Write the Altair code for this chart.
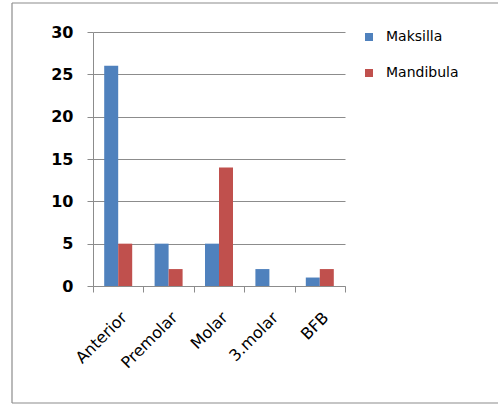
import altair as alt
import pandas as pd

categories = ["Anterior", "Premolar", "Molar", "3.molar", "BFB"]
maksilla = [26, 5, 5, 2, 1]
mandibula = [5, 2, 14, 0, 2]
series = ["Maksilla", "Mandibula"]
colors = ["#4F81BD", "#C0504D"]

rows = []
for c, a, b in zip(categories, maksilla, mandibula):
    rows.append({"cat": c, "series": series[0], "value": a})
    rows.append({"cat": c, "series": series[1], "value": b})
df = pd.DataFrame(rows)

grey = "#8c8c8c"

bars = alt.Chart(df).mark_bar().encode(
    x=alt.X("cat:N", sort=categories, title=None,
            scale=alt.Scale(paddingInner=0, paddingOuter=0),
            axis=alt.Axis(labelAngle=-45, tickBand="extent", grid=False,
                          domainColor=grey, tickColor=grey, tickSize=6,
                          labelFont="DejaVu Sans", labelFontSize=16,
                          labelColor="#000", labelPadding=17)),
    xOffset=alt.XOffset("series:N", sort=series,
                        scale=alt.Scale(paddingInner=0, paddingOuter=0.8)),
    y=alt.Y("value:Q", title=None,
            scale=alt.Scale(domain=[0, 30], nice=False),
            axis=alt.Axis(values=[0, 5, 10, 15, 20, 25, 30], grid=True,
                          gridColor=grey, gridOpacity=1, domainColor=grey,
                          tickColor=grey, tickSize=6, labelPadding=14,
                          labelFont="DejaVu Sans", labelFontWeight="bold",
                          labelFontSize=16, labelColor="#000")),
    color=alt.Color("series:N", sort=series,
                    scale=alt.Scale(domain=series, range=colors),
                    legend=alt.Legend(title=None, orient="none", legendX=269,
                                      legendY=-2, symbolType="square",
                                      symbolSize=64, symbolStrokeWidth=0,
                                      labelFont="DejaVu Sans", labelFontSize=14,
                                      labelColor="#000", rowPadding=22,
                                      labelOffset=10)),
)

one = alt.Data(values=[{"a": 1}])
frame_left = alt.Chart(one).mark_rule(stroke=grey, strokeWidth=1.2).encode(
    x=alt.value(-81), y=alt.value(-29), y2=alt.value(371))
frame_top = alt.Chart(one).mark_rule(stroke=grey, strokeWidth=1.2).encode(
    x=alt.value(-81), x2=alt.value(420), y=alt.value(-29))
frame_bottom = alt.Chart(one).mark_rule(stroke=grey, strokeWidth=1.2).encode(
    x=alt.value(-81), x2=alt.value(420), y=alt.value(371))

chart = alt.layer(frame_left, frame_top, frame_bottom, bars).properties(
    width=252, height=254,
    autosize=alt.AutoSizeParams(type="none"),
    padding={"left": 93, "top": 32, "right": 153, "bottom": 119},
).configure_view(stroke=None)

chart.save("out.html", embed_options={"renderer": "svg", "actions": False})
